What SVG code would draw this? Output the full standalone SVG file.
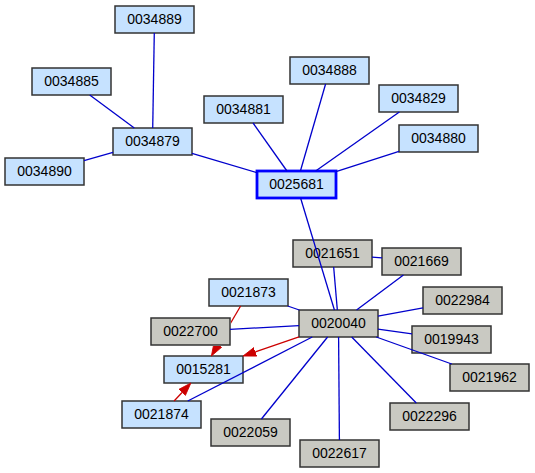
<svg xmlns="http://www.w3.org/2000/svg" width="535" height="473" viewBox="0 0 535 473">
<style>
.n rect{stroke:#333;stroke-width:1.5}
.b rect{fill:#c6e2ff}
.g rect{fill:#c9c9c2}
.hl rect{stroke:#0000ff;stroke-width:2.8}
text{font-family:"Liberation Sans",Arial,sans-serif;font-size:14px;fill:#000;text-anchor:middle}
.e line{stroke:#0000cc;stroke-width:1.3;fill:none}
.e line.r{stroke:#cc0000;marker-end:url(#ah)}
</style>
<defs>
<marker id="ah" markerUnits="userSpaceOnUse" markerWidth="14" markerHeight="10" refX="0" refY="5" orient="auto" viewBox="0 0 14 10">
<path d="M0,0.5L13,5L0,9.5Z" fill="#cc0000" stroke="#cc0000" stroke-width="0.8"/>
</marker>
<clipPath id="c1"><path clip-rule="evenodd" d="M0,0H535V473H0Z M150,317H231V346H150Z"/></clipPath>
</defs>
<rect width="535" height="473" fill="#fff"/>
<g id="nodes">
<g id="n0034889" class="n b"><rect x="115" y="6" width="79" height="27"/><text x="154.5" y="23.5">0034889</text></g>
<g id="n0034885" class="n b"><rect x="32" y="68" width="79" height="27"/><text x="71.5" y="85.5">0034885</text></g>
<g id="n0034879" class="n b"><rect x="113" y="128" width="79" height="27"/><text x="152.5" y="145.5">0034879</text></g>
<g id="n0034890" class="n b"><rect x="5" y="158" width="79" height="27"/><text x="44.5" y="175.5">0034890</text></g>
<g id="n0034881" class="n b"><rect x="204" y="96" width="79" height="27"/><text x="243.5" y="113.5">0034881</text></g>
<g id="n0025681" class="n b hl"><rect x="257" y="171" width="79" height="27"/><text x="296.5" y="188.5">0025681</text></g>
<g id="n0034888" class="n b"><rect x="290" y="57" width="79" height="27"/><text x="329.5" y="74.5">0034888</text></g>
<g id="n0034829" class="n b"><rect x="379" y="85" width="79" height="27"/><text x="418.5" y="102.5">0034829</text></g>
<g id="n0034880" class="n b"><rect x="399" y="125" width="79" height="27"/><text x="438.5" y="142.5">0034880</text></g>
<g id="n0021651" class="n g"><rect x="293" y="240" width="79" height="27"/><text x="332.5" y="257.5">0021651</text></g>
<g id="n0021669" class="n g"><rect x="382" y="248" width="79" height="27"/><text x="421.5" y="265.5">0021669</text></g>
<g id="n0021873" class="n b"><rect x="209" y="279" width="79" height="27"/><text x="248.5" y="296.5">0021873</text></g>
<g id="n0020040" class="n g"><rect x="299" y="310" width="79" height="27"/><text x="338.5" y="327.5">0020040</text></g>
<g id="n0022984" class="n g"><rect x="423" y="287" width="79" height="27"/><text x="462.5" y="304.5">0022984</text></g>
<g id="n0022700" class="n g"><rect x="151" y="318" width="79" height="27"/><text x="190.5" y="335.5">0022700</text></g>
<g id="n0019943" class="n g"><rect x="412" y="326" width="79" height="27"/><text x="451.5" y="343.5">0019943</text></g>
<g id="n0015281" class="n b"><rect x="164" y="356" width="79" height="27"/><text x="203.5" y="373.5">0015281</text></g>
<g id="n0021962" class="n g"><rect x="450" y="364" width="79" height="27"/><text x="489.5" y="381.5">0021962</text></g>
<g id="n0021874" class="n b"><rect x="122" y="401" width="79" height="27"/><text x="161.5" y="418.5">0021874</text></g>
<g id="n0022296" class="n g"><rect x="390" y="403" width="79" height="27"/><text x="429.5" y="420.5">0022296</text></g>
<g id="n0022059" class="n g"><rect x="211" y="419" width="79" height="27"/><text x="250.5" y="436.5">0022059</text></g>
<g id="n0022617" class="n g"><rect x="300" y="440" width="79" height="27"/><text x="339.5" y="457.5">0022617</text></g>
</g>
<g id="connectors" class="e">
<line x1="154.28" y1="33" x2="152.72" y2="128"/>
<line x1="89.73" y1="95" x2="134.28" y2="128"/>
<line x1="84" y1="160.53" x2="113" y2="152.47"/>
<line x1="192" y1="153.3" x2="257" y2="172.7"/>
<line x1="253.04" y1="123" x2="286.96" y2="171"/>
<line x1="325.59" y1="84" x2="300.41" y2="171"/>
<line x1="399.35" y1="112" x2="315.65" y2="171"/>
<line x1="399" y1="151.3" x2="336" y2="171.7"/>
<line x1="300.58" y1="198" x2="334.42" y2="310"/>
<line x1="333.66" y1="267" x2="337.34" y2="310"/>
<line x1="372" y1="257.05" x2="382" y2="257.95"/>
<line x1="403.43" y1="275" x2="356.57" y2="310"/>
<line x1="423" y1="307.83" x2="378" y2="316.17"/>
<line x1="412" y1="333.91" x2="378" y2="329.09"/>
<line x1="451.75" y1="364" x2="376.25" y2="337"/>
<line x1="416.29" y1="403" x2="351.71" y2="337"/>
<line x1="339.4" y1="440" x2="338.6" y2="337"/>
<line x1="261.4" y1="419" x2="327.6" y2="337"/>
<line x1="187.76" y1="401" x2="312.24" y2="337"/>
<line x1="230" y1="329.36" x2="299" y2="325.64"/>
<line x1="287.7" y1="306" x2="299.3" y2="310"/>
<line class="r" x1="299" y1="336.96" x2="255.31" y2="351.85"/>
<g clip-path="url(#c1)"><line class="r" x1="240.61" y1="306" x2="217.95" y2="344.78"/></g>
<line class="r" x1="174.1" y1="401" x2="182.03" y2="392.5"/>
</g>
</svg>
